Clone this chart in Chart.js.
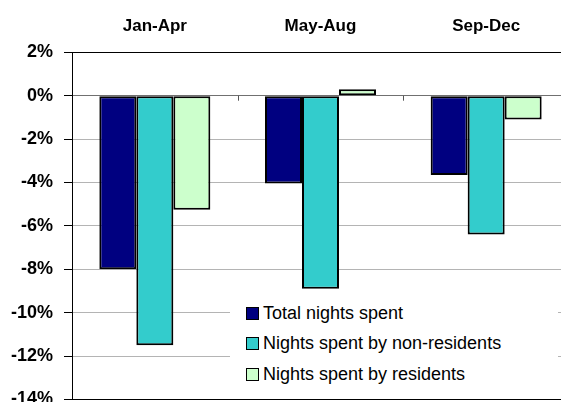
<!DOCTYPE html>
<html>
<head>
<meta charset="utf-8">
<script src="https://cdn.jsdelivr.net/npm/chart.js@4"></script>
<style>
  html, body { margin: 0; padding: 0; overflow: hidden; background: #fff; }
  #wrap { position: absolute; left: 0; top: 0; width: 600px; height: 430px; }
  #legend {
    position: absolute; left: 230px; top: 292px; width: 328px; height: 103px;
    background: #fff; padding-top: 6px; box-sizing: border-box;
    font-family: "Liberation Sans", Arial, sans-serif; font-size: 18px; color: #000;
  }
  #legend .row { height: 30.5px; display: flex; align-items: center; padding-left: 16px; }
  #legend .box { width: 13px; height: 13px; border: 1.5px solid #000; box-sizing: border-box; margin-right: 4px; }
</style>
</head>
<body>
<div id="wrap">
  <canvas id="chart" width="600" height="430"></canvas>
  <div id="legend"></div>
</div>
<script>
// periods shown along the top
const periods = ['Jan-Apr', 'May-Aug', 'Sep-Dec'];

// % change
const totalNights = [-8.0, -4.05, -3.65];
const nonResidentNights = [-11.5, -8.9, -6.4];
const residentNights = [-5.25, 0.3, -1.1];

const seriesNames = ['Total nights spent', 'Nights spent by non-residents', 'Nights spent by residents'];
const seriesValues = [totalNights, nonResidentNights, residentNights];
const COLORS = ['#000080', '#33CCCC', '#CCFFCC'];

const FONT = '"Liberation Sans", Arial, sans-serif';

// little tick marks on the 0% line between the periods
const categoryTicks = {
  id: 'categoryTicks',
  afterDatasetsDraw(chart) {
    const x = chart.scales.x, y = chart.scales.y;
    const y0 = y.getPixelForValue(0);
    const ctx = chart.ctx;
    ctx.save();
    ctx.strokeStyle = '#555';
    ctx.lineWidth = 1;
    for (let i = 1; i < periods.length; i++) {
      const px = Math.round((x.getPixelForTick(i - 1) + x.getPixelForTick(i)) / 2) + 0.5;
      ctx.beginPath();
      ctx.moveTo(px, y0);
      ctx.lineTo(px, y0 + 5);
      ctx.stroke();
    }
    ctx.restore();
  }
};

new Chart(document.getElementById('chart'), {
  type: 'bar',
  data: {
    labels: periods,
    datasets: seriesValues.map((vals, i) => ({
      label: seriesNames[i],
      data: vals,
      backgroundColor: COLORS[i],
      borderColor: '#000',
      borderWidth: 2,
      borderSkipped: false,
      categoryPercentage: 0.67,
      barPercentage: 1.0,
    })),
  },
  options: {
    responsive: false,
    animation: false,
    layout: { padding: { left: 0, right: 31, top: 0, bottom: 30.5 } },
    plugins: {
      legend: { display: false },
      tooltip: { enabled: false },
    },
    scales: {
      x: {
        position: 'top',
        grid: { display: false, drawTicks: false },
        border: { display: false },
        ticks: {
          color: '#000',
          padding: 16,
          font: { family: FONT, size: 17, weight: 'bold' },
        },
        afterFit(scale) { scale.height = 52.3; },
      },
      y: {
        min: -14,
        max: 2,
        ticks: {
          stepSize: 2,
          color: '#000',
          padding: 11,
          font: { family: FONT, size: 18, weight: 'bold' },
          callback: (v) => v + '%',
        },
        grid: {
          tickLength: 8,
          tickColor: '#000',
          lineWidth: 1,
          color: (ctx) => {
            const v = ctx.tick && ctx.tick.value;
            if (v === 2 || v === -14) return '#000';
            if (v === 0) return '#707070';
            return '#b4b4b4';
          },
        },
        border: { color: '#000', width: 1 },
        afterFit(scale) { scale.width = 72; },
      },
    },
  },
  plugins: [categoryTicks],
});

// legend drawn as html so it can sit on a white box over the plot
const legend = document.getElementById('legend');
seriesNames.forEach((name, i) => {
  const row = document.createElement('div');
  row.className = 'row';
  const box = document.createElement('span');
  box.className = 'box';
  box.style.background = COLORS[i];
  const txt = document.createElement('span');
  txt.textContent = name;
  row.appendChild(box);
  row.appendChild(txt);
  legend.appendChild(row);
});
</script>
</body>
</html>
